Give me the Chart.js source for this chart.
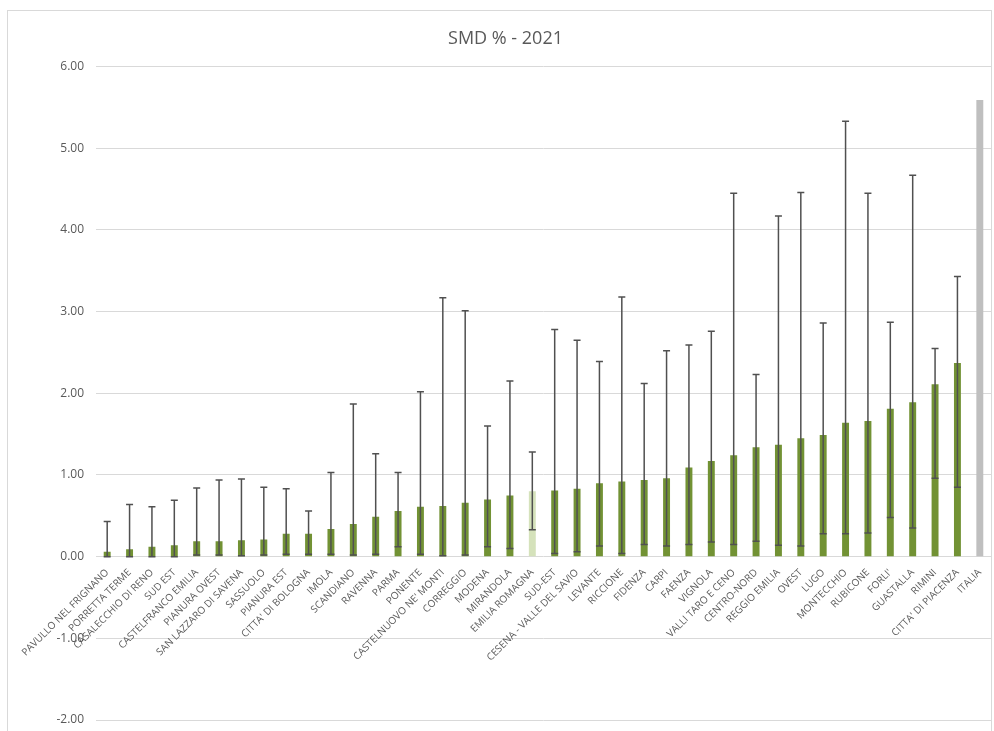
<!DOCTYPE html>
<html>
<head>
<meta charset="utf-8">
<script src="https://cdn.jsdelivr.net/npm/chart.js@4/dist/chart.umd.min.js"></script>
<style>
  html, body { margin: 0; padding: 0; background: #fff; }
  #wrap { position: relative; width: 994px; height: 731px; overflow: hidden; }
  #frame { position: absolute; left: 7px; top: 10px; width: 985px; height: 740px; border: 1px solid #d9d9d9; box-sizing: border-box; }
  #smd-chart { position: absolute; left: 0; top: 0; }
</style>
</head>
<body>
<div id="wrap">
  <div id="frame"></div>
  <canvas id="smd-chart" width="994" height="731"></canvas>
</div>
<script>
const categories = ['PAVULLO NEL FRIGNANO', 'PORRETTA TERME', 'CASALECCHIO DI RENO', 'SUD EST',
  'CASTELFRANCO EMILIA', 'PIANURA OVEST', 'SAN LAZZARO DI SAVENA', 'SASSUOLO', 'PIANURA EST',
  "CITTA' DI BOLOGNA", 'IMOLA', 'SCANDIANO', 'RAVENNA', 'PARMA', 'PONENTE', "CASTELNUOVO NE' MONTI",
  'CORREGGIO', 'MODENA', 'MIRANDOLA', 'EMILIA ROMAGNA', 'SUD-EST', 'CESENA - VALLE DEL SAVIO',
  'LEVANTE', 'RICCIONE', 'FIDENZA', 'CARPI', 'FAENZA', 'VIGNOLA', 'VALLI TARO E CENO', 'CENTRO-NORD',
  'REGGIO EMILIA', 'OVEST', 'LUGO', 'MONTECCHIO', 'RUBICONE', "FORLI'", 'GUASTALLA', 'RIMINI',
  "CITTA' DI PIACENZA", 'ITALIA'];

const smdValues = [0.06, 0.09, 0.12, 0.14, 0.19, 0.19, 0.20, 0.21, 0.28, 0.28,
  0.34, 0.40, 0.49, 0.56, 0.61, 0.62, 0.66, 0.70, 0.75, 0.80,
  0.81, 0.83, 0.90, 0.92, 0.94, 0.96, 1.09, 1.17, 1.24, 1.34,
  1.37, 1.45, 1.49, 1.64, 1.66, 1.81, 1.89, 2.11, 2.37, 5.59];

const upperCI = [0.43, 0.64, 0.61, 0.69, 0.84, 0.94, 0.95, 0.85, 0.83, 0.56,
  1.03, 1.87, 1.26, 1.03, 2.02, 3.17, 3.01, 1.60, 2.15, 1.28,
  2.78, 2.65, 2.39, 3.18, 2.12, 2.52, 2.59, 2.76, 4.45, 2.23,
  4.17, 4.46, 2.86, 5.33, 4.45, 2.87, 4.67, 2.55, 3.43, null];

const lowerCI = [0.00, 0.00, 0.00, 0.00, 0.02, 0.02, 0.01, 0.02, 0.03, 0.03,
  0.03, 0.02, 0.03, 0.12, 0.03, 0.01, 0.02, 0.12, 0.10, 0.33,
  0.04, 0.06, 0.13, 0.04, 0.15, 0.13, 0.15, 0.18, 0.15, 0.19,
  0.14, 0.13, 0.28, 0.28, 0.29, 0.48, 0.35, 0.96, 0.85, null];

const yTicks = [-2, -1, 0, 1, 2, 3, 4, 5, 6];

const barColors = categories.map(c => {
  if (c === 'EMILIA ROMAGNA') return '#d5e2bb';
  if (c === 'ITALIA') return '#bfbfbf';
  return '#729234';
});

// whiskers on top of the bars
const errorBars = {
  id: 'errorBars',
  afterDatasetsDraw(chart) {
    const meta = chart.getDatasetMeta(0);
    const y = chart.scales.y;
    const c = chart.ctx;
    c.save();
    c.strokeStyle = '#505050';
    c.lineWidth = 1.5;
    meta.data.forEach((bar, i) => {
      if (upperCI[i] == null) return;
      const yu = y.getPixelForValue(upperCI[i]);
      const yl = y.getPixelForValue(lowerCI[i]);
      const hw = 3.5;
      c.beginPath();
      c.moveTo(bar.x, yl); c.lineTo(bar.x, yu);
      c.moveTo(bar.x - hw, yu); c.lineTo(bar.x + hw, yu);
      c.moveTo(bar.x - hw, yl); c.lineTo(bar.x + hw, yl);
      c.stroke();
    });
    c.restore();
  }
};

new Chart(document.getElementById('smd-chart'), {
  type: 'bar',
  data: {
    labels: categories,
    datasets: [{
      label: 'SMD %',
      data: smdValues,
      backgroundColor: barColors,
      barPercentage: 0.31,
      categoryPercentage: 1.0
    }]
  },
  options: {
    responsive: false,
    animation: false,
    layout: { padding: { left: 20, right: 3, top: 0, bottom: 11 } },
    plugins: {
      legend: { display: false },
      tooltip: { enabled: false },
      title: {
        display: true,
        text: 'SMD % - 2021',
        color: '#595959',
        font: { family: 'Open Sans', size: 18, weight: 'normal' },
        padding: { top: 28, bottom: 17 }
      }
    },
    scales: {
      x: {
        position: { y: 0 },
        grid: { display: false },
        border: { display: false },
        afterFit(scale) {
          scale.paddingLeft = 0; scale.paddingRight = 0;
          scale.paddingTop = 0; scale.paddingBottom = 0;
          scale.height = 0;
        },
        ticks: {
          autoSkip: false,
          minRotation: 45,
          maxRotation: 45,
          padding: 2,
          color: '#595959',
          font: { family: 'Open Sans', size: 10 }
        }
      },
      y: {
        min: -2,
        max: 6,
        afterBuildTicks(scale) { scale.ticks = yTicks.map(v => ({ value: v })); },
        afterFit(scale) {
          scale.width = 76;
          scale.paddingTop = 0; scale.paddingBottom = 0;
        },
        grid: { color: '#d9d9d9', lineWidth: 1, drawTicks: false },
        border: { display: false },
        ticks: {
          padding: 12,
          color: '#595959',
          font: { family: 'Open Sans', size: 12 },
          callback: v => v.toFixed(2)
        }
      }
    }
  },
  plugins: [errorBars]
});
</script>
</body>
</html>
